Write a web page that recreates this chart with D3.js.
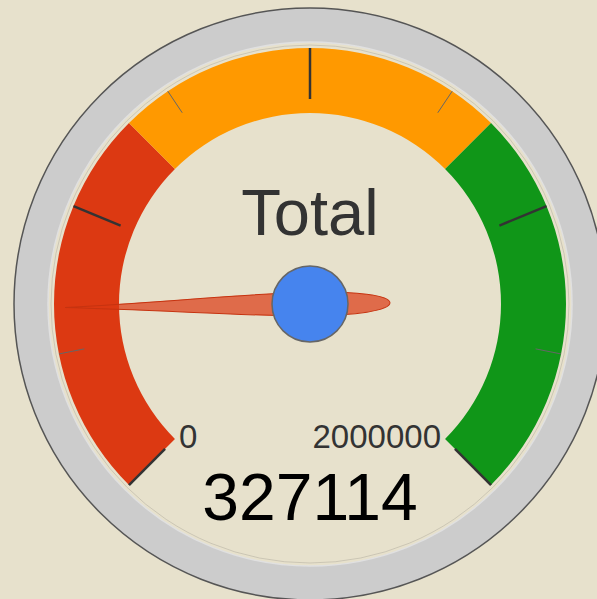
<!DOCTYPE html>
<html>
<head>
<meta charset="utf-8">
<script src="https://cdn.jsdelivr.net/npm/d3@7"></script>
<style>
  html, body { margin: 0; padding: 0; background: #e7e1cc; overflow: hidden; }
  svg { display: block; }
</style>
</head>
<body>
<svg id="svgmain" width="597" height="599"></svg>
<script>
// gauge data
var gaugeLabel = "Total"
var gaugeValue = 327114
var gaugeMin = 0
var gaugeMax = 2000000
var bandFrom = [0, 666667, 1333333]
var bandTo = [666667, 1333333, 2000000]
var bandColors = ["#dc3912", "#ff9900", "#109618"]
var majorTicks = [0, 500000, 1000000, 1500000, 2000000]
var minorTicks = [250000, 750000, 1250000, 1750000]
var endLabels = ["0", "2000000"]

var cx = 310, cy = 304
var rOuter = 296, rFace = 262
var bandOuter = 256, bandInner = 191

var angle = d3.scaleLinear().domain([gaugeMin, gaugeMax]).range([-135, 135])
var rad = function(v) { return angle(v) * Math.PI / 180 }

var svg = d3.select("#svgmain")
var g = svg.append("g").attr("transform", "translate(" + cx + "," + cy + ")")

// rim
g.append("circle").attr("r", rOuter).attr("fill", "#cccccc").attr("stroke", "#555").attr("stroke-width", 1.5)
g.append("circle").attr("r", rFace).attr("fill", "#e7e1cc").attr("stroke", "#e0e0e0").attr("stroke-width", 1.5)
g.append("circle").attr("r", bandOuter + 3).attr("fill", "none").attr("stroke", "#b8b4a4").attr("stroke-width", 0.6)

// colour bands
var arc = d3.arc().innerRadius(bandInner).outerRadius(bandOuter)
g.selectAll(".band").data(bandColors).enter().append("path")
    .attr("class", "band")
    .attr("d", function(c, i) { return arc({ startAngle: rad(bandFrom[i]), endAngle: rad(bandTo[i]) }) })
    .attr("fill", function(c) { return c })

// ticks
function drawTicks(values, r0, r1, color, width) {
    g.selectAll(null).data(values).enter().append("line")
        .attr("x1", function(v) { return Math.sin(rad(v)) * r0 })
        .attr("y1", function(v) { return -Math.cos(rad(v)) * r0 })
        .attr("x2", function(v) { return Math.sin(rad(v)) * r1 })
        .attr("y2", function(v) { return -Math.cos(rad(v)) * r1 })
        .attr("stroke", color).attr("stroke-width", width)
}
drawTicks(majorTicks, bandOuter, 205, "#333", 2.5)
drawTicks(minorTicks, bandOuter, 230, "#666", 1)

var font = "Liberation Sans, Arial, sans-serif"

// title
g.append("text").text(gaugeLabel)
    .attr("x", 0).attr("y", -69)
    .attr("text-anchor", "middle")
    .attr("font-family", font)
    .attr("font-size", 65).attr("fill", "#333")

// min / max labels
g.append("text").text(endLabels[0])
    .attr("x", -131).attr("y", 144)
    .attr("text-anchor", "start")
    .attr("font-family", font)
    .attr("font-size", 33).attr("fill", "#333")
g.append("text").text(endLabels[1])
    .attr("x", 131).attr("y", 144)
    .attr("text-anchor", "end")
    .attr("font-family", font)
    .attr("font-size", 33).attr("fill", "#333")

// value
g.append("text").text(gaugeValue)
    .attr("x", 0).attr("y", 216)
    .attr("text-anchor", "middle")
    .attr("font-family", font)
    .attr("font-size", 66).attr("fill", "#000")

// needle
var needle = "M0,-245 C4,-150 12,-45 12,0 C12,45 8,80 0,80 C-8,80 -12,45 -12,0 C-12,-45 -4,-150 0,-245 Z"
g.append("path").attr("d", needle)
    .attr("transform", "rotate(" + angle(gaugeValue) + ")")
    .attr("fill", "#dc3912").attr("fill-opacity", 0.7)
    .attr("stroke", "#c63310").attr("stroke-width", 1)

// hub
g.append("circle").attr("r", 38).attr("fill", "#4684ee").attr("stroke", "#666").attr("stroke-width", 1.5)
</script>
</body>
</html>
